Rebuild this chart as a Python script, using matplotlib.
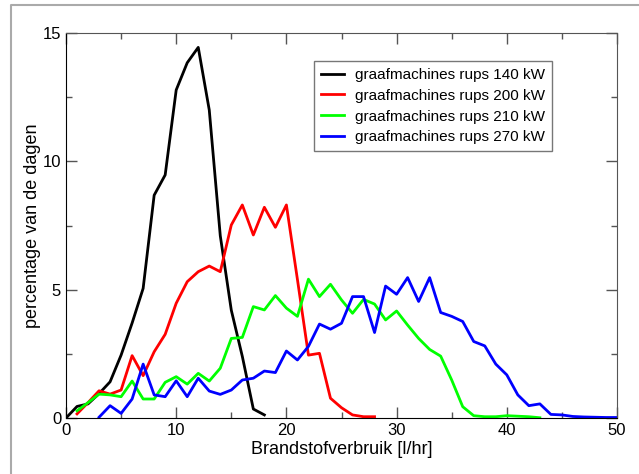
import matplotlib
matplotlib.use("Agg")
import matplotlib.pyplot as plt
from matplotlib.lines import Line2D
from matplotlib.ticker import MultipleLocator

plt.rcParams['font.family'] = ['Liberation Sans', 'DejaVu Sans']

x_140 = list(range(0, 19))
y_140 = [0, 0.45, 0.55, 0.95, 1.41, 2.45, 3.7, 5.05, 8.68, 9.47, 12.78, 13.84,
         14.44, 12.0, 7.1, 4.2, 2.4, 0.35, 0.12]

x_200 = list(range(1, 29))
y_200 = [0.16, 0.6, 1.06, 0.93, 1.09, 2.43, 1.65, 2.58, 3.26, 4.47, 5.31, 5.70,
         5.92, 5.70, 7.52, 8.30, 7.13, 8.21, 7.43, 8.30, 5.4, 2.45, 2.52, 0.77,
         0.4, 0.12, 0.05, 0.05]

x_210 = list(range(1, 44))
y_210 = [0.28, 0.6, 0.93, 0.9, 0.83, 1.44, 0.74, 0.74, 1.39, 1.61, 1.32, 1.74,
         1.44, 1.94, 3.1, 3.14, 4.34, 4.21, 4.77, 4.28, 3.96, 5.41, 4.73, 5.21,
         4.60, 4.08, 4.62, 4.44, 3.82, 4.17, 3.62, 3.1, 2.67, 2.41, 1.48, 0.44,
         0.09, 0.05, 0.05, 0.09, 0.07, 0.05, 0.01]

x_270 = list(range(3, 51))
y_270 = [0.03, 0.48, 0.18, 0.74, 2.10, 0.9, 0.83, 1.45, 0.83, 1.55, 1.05, 0.92,
         1.09, 1.48, 1.55, 1.83, 1.77, 2.61, 2.26, 2.79, 3.66, 3.46, 3.69, 4.73,
         4.73, 3.33, 5.14, 4.82, 5.47, 4.54, 5.47, 4.11, 3.96, 3.76, 2.98, 2.81,
         2.10, 1.68, 0.9, 0.48, 0.55, 0.14, 0.12, 0.06, 0.04, 0.03, 0.02, 0.02]

labels = ["graafmachines rups 140 kW", "graafmachines rups 200 kW",
          "graafmachines rups 210 kW", "graafmachines rups 270 kW"]
colors = ["#000000", "#ff0000", "#00ff00", "#0000ff"]

fig = plt.figure(figsize=(6.39, 4.74), dpi=100)
# outer frame lines (partial, as in screenshot)
fig.add_artist(Line2D([11/639, 11/639, 1.0], [0.0, 1 - 5/474, 1 - 5/474],
                      transform=fig.transFigure, color="#aaaaaa", lw=1.5))

ax = fig.add_axes([66/639, 1 - 418/474, (617 - 66)/639, (418 - 33)/474])
for xs, ys, c, lab in zip([x_140, x_200, x_210, x_270],
                          [y_140, y_200, y_210, y_270], colors, labels):
    ax.plot(xs, ys, color=c, lw=2, label=lab)

ax.set_xlim(0, 50)
ax.set_ylim(0, 15)
ax.xaxis.set_major_locator(MultipleLocator(10))
ax.xaxis.set_minor_locator(MultipleLocator(5))
ax.yaxis.set_major_locator(MultipleLocator(5))
ax.yaxis.set_minor_locator(MultipleLocator(2.5))
ax.tick_params(which='both', direction='in', top=True, right=True,
               labelsize=12, color='#555555')
ax.tick_params(which='major', length=8, width=1)
ax.tick_params(which='minor', length=4, width=1)
for s in ['top', 'right']:
    ax.spines[s].set_color('#555555')
for s in ['left', 'bottom']:
    ax.spines[s].set_color('#000000')

ax.set_xlabel("Brandstofverbruik [l/hr]", fontsize=13, labelpad=2)
ax.set_ylabel("percentage van de dagen", fontsize=13, labelpad=1)

leg = ax.legend(loc='upper left', bbox_to_anchor=((314 - 66)/551, 1 - (61 - 33)/385),
                fontsize=11, frameon=True, fancybox=False, edgecolor='#555555',
                handlelength=1.5, borderpad=0.45, labelspacing=0.45,
                handletextpad=0.75, borderaxespad=0)
leg.get_frame().set_linewidth(1)

fig.savefig("out.png", dpi=100)
